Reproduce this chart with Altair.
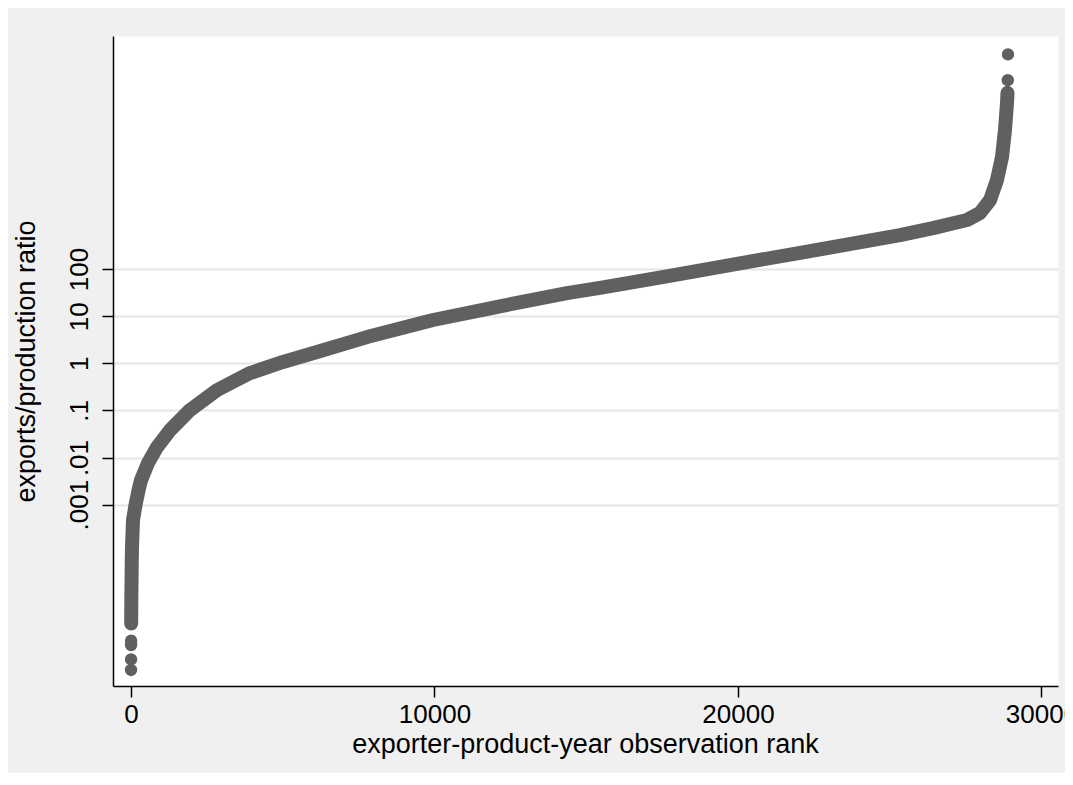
import altair as alt
import pandas as pd

# exporter-product-year observation rank and exports/production ratio
rank = [1, 2, 3, 4, 6, 8, 12, 18, 25, 33, 66, 148, 247, 329, 560, 857, 1285, 1944,
        2834, 3921, 5008, 6128, 7776, 9951, 12158, 14366, 15453, 17700, 19967,
        22000, 25338, 26425, 27545, 27974, 28303, 28534, 28699, 28797, 28863,
        28880, 28890, 28896]
ratio = [3.1e-7, 5.2e-7, 1.05e-6, 1.3e-6, 3.0e-6, 5.8e-6, 1.2e-5, 2.5e-5, 6.6e-5,
         1.26e-4, 4.7e-4, 9.8e-4, 2.0e-3, 3.3e-3, 7.6e-3, 0.0166, 0.038, 0.102,
         0.27, 0.62, 1.07, 1.74, 3.6, 8.3, 16.2, 31, 40, 71, 129, 218, 525, 740,
         1100, 1550, 2900, 7800, 24000, 89000, 330000, 550000, 1.02e6, 3.6e6]

y_ticks = [0.001, 0.01, 0.1, 1, 10, 100]
x_ticks = [0, 10000, 20000, 30000]

df = pd.DataFrame({"rank": rank, "ratio": ratio})

FONT = "Liberation Sans"
GREY = "#606060"

x_enc = alt.X(
    "rank:Q",
    scale=alt.Scale(domain=[-593, 30544], nice=False, zero=False),
    axis=alt.Axis(
        values=x_ticks, format="d", grid=False,
        title="exporter-product-year observation rank",
        titleX=472, titleY=66, titleAlign="center", titleBaseline="alphabetic",
        labelFlush=False, labelOverlap=False, labelBaseline="alphabetic",
        labelPadding=25, tickSize=11,
    ),
)
y_enc = alt.Y(
    "ratio:Q",
    scale=alt.Scale(type="log", domain=[1.416e-7, 8.85e6], nice=False),
    axis=alt.Axis(
        values=y_ticks,
        labelExpr="replace(format(datum.value, '~g'), '0.', '.')",
        grid=True, gridColor="#e6e6e6", gridWidth=2,
        title="exports/production ratio",
        titleX=-79, titleY=325, titleAngle=270, titleAlign="center",
        titleBaseline="alphabetic",
        labelAngle=270, labelAlign="center", labelBaseline="alphabetic",
        labelOverlap=False, labelPadding=15, tickSize=11,
    ),
)

band = (
    alt.Chart(df)
    .transform_filter(alt.FieldRangePredicate(field="rank", range=[6, 28880]))
    .mark_line(color=GREY, strokeWidth=14, strokeCap="round", strokeJoin="round")
    .encode(x=x_enc, y=y_enc)
)
dots = (
    alt.Chart(df)
    .mark_circle(color=GREY, size=154, opacity=1)
    .encode(x=x_enc, y=y_enc)
)

chart = (
    alt.layer(band, dots)
    .properties(
        width=945, height=650,
        padding={"left": 105, "top": 28, "right": 7, "bottom": 87},
        autosize=alt.AutoSizeParams(type="none"),
        background="#f0f0f0",
    )
    .configure_view(fill="white", stroke="transparent")
    .configure_axis(
        labelFont=FONT, titleFont=FONT, labelFontSize=26, titleFontSize=27,
        labelColor="black", titleColor="black", titleFontWeight="normal",
        domainColor="black", domainWidth=1.5, tickColor="black", tickWidth=1.5,
    )
)

chart.save("out.html", embed_options={"renderer": "svg", "actions": False})
